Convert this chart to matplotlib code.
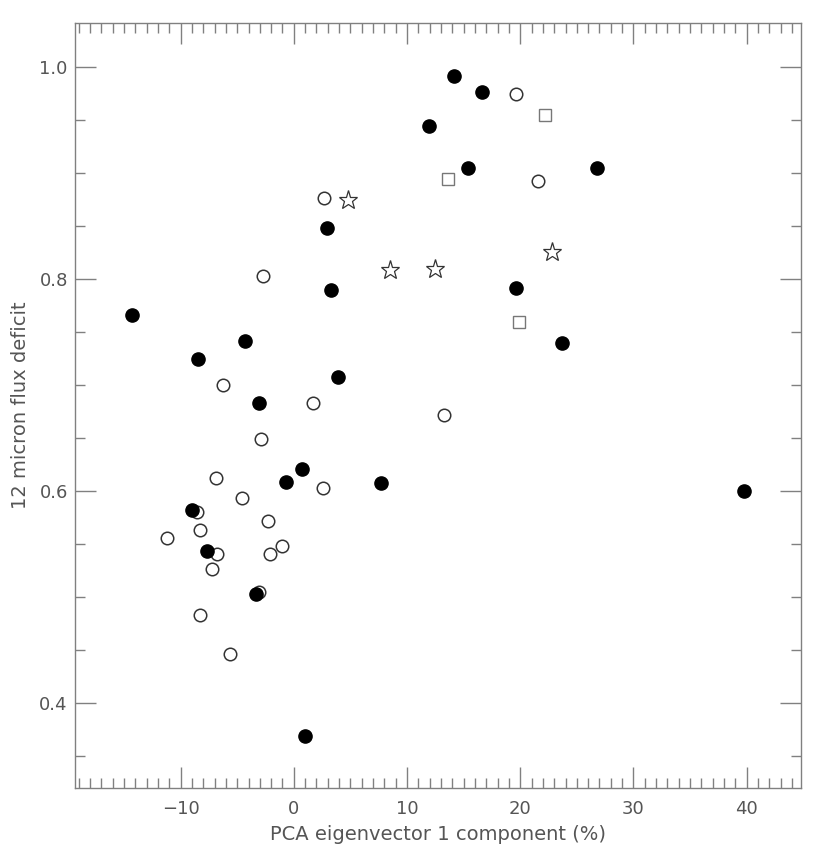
import numpy as np
import matplotlib
matplotlib.use("Agg")
import matplotlib.pyplot as plt
from matplotlib.ticker import MultipleLocator

# filled circles
x_fill = [-14.26, -8.47, -4.32, -3.05, 3.33, 3.92, 2.91, -0.67, 0.71, 7.74,
          -9.03, -7.7, -3.35, 1.03, 14.12, 16.63, 11.95, 15.42, 26.8, 19.6,
          23.7, 39.8]
y_fill = [0.766, 0.724, 0.741, 0.683, 0.789, 0.707, 0.848, 0.608, 0.620, 0.607,
          0.582, 0.543, 0.503, 0.369, 0.991, 0.976, 0.944, 0.904, 0.904, 0.791,
          0.739, 0.600]

# open circles
x_open = [-2.7, -6.29, 1.71, -2.91, -6.88, 2.62, -4.55, -8.53, -2.29, -8.26,
          -11.17, -6.76, -1.0, -2.08, -7.26, -3.1, -8.26, -5.59, 2.71, 19.63,
          21.6, 13.3]
y_open = [0.803, 0.700, 0.683, 0.649, 0.612, 0.603, 0.593, 0.580, 0.571, 0.563,
          0.555, 0.540, 0.548, 0.540, 0.526, 0.504, 0.483, 0.446, 0.876, 0.974,
          0.892, 0.671]

# stars
x_star = [4.77, 8.47, 12.51, 22.8]
y_star = [0.874, 0.808, 0.809, 0.825]

# squares
x_sq = [13.59, 22.2, 19.9]
y_sq = [0.894, 0.954, 0.759]

TXT = '#555555'
AX = '#808080'

fig = plt.figure(figsize=(8.3, 8.51), dpi=100)
ax = fig.add_axes([0.09, 0.0744, 0.8747, 0.8989])

ax.plot(x_open, y_open, 'o', ms=9, mfc='white', mec='#333333', mew=1.1, ls='none')
ax.plot(x_fill, y_fill, 'o', ms=9.5, mfc='black', mec='black', ls='none')
ax.plot(x_star, y_star, '*', ms=14, mfc='white', mec='#333333', mew=0.9, ls='none')
ax.plot(x_sq, y_sq, 's', ms=9, mfc='white', mec='#777777', mew=1.0, ls='none')

ax.set_xlim(-19.35, 44.77)
ax.set_ylim(0.3198, 1.0415)

ax.xaxis.set_minor_locator(MultipleLocator(1))
ax.yaxis.set_minor_locator(MultipleLocator(0.05))
ax.set_yticks([0.4, 0.6, 0.8, 1.0])
ax.set_yticklabels(['0.4', '0.6', '0.8', '1.0'])
ax.set_xticks([-10, 0, 10, 20, 30, 40])
ax.set_xticklabels(['\u221210', '0', '10', '20', '30', '40'])

ax.tick_params(which='both', direction='in', top=True, right=True, color=AX,
               labelcolor=TXT, labelsize=13, width=1)
ax.tick_params(which='major', length=15, pad=9)
ax.tick_params(which='minor', length=7)
ax.tick_params(axis='y', which='major', pad=5)

for s in ax.spines.values():
    s.set_color(AX)
    s.set_linewidth(1)

ax.set_xlabel('PCA eigenvector 1 component (%)', color=TXT, fontsize=14, labelpad=5)
ax.set_ylabel('12 micron flux deficit', color=TXT, fontsize=14, labelpad=7)

fig.savefig('out.png', dpi=100)
